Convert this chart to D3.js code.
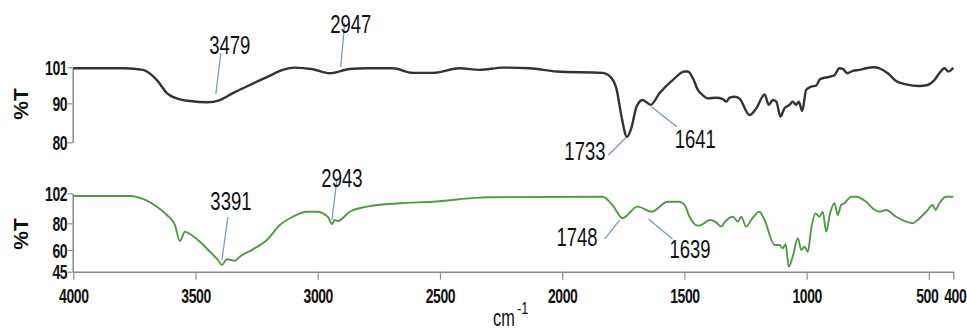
<!DOCTYPE html>
<html>
<head>
<meta charset="utf-8">
<script src="https://cdn.jsdelivr.net/npm/d3@7"></script>
<style>
  body { margin: 0; background: #fff; }
  svg { display: block; font-family: "Liberation Sans", Arial, sans-serif; }
</style>
</head>
<body>
<div id="chart"></div>
<script>
// wavenumber ticks (cm-1)
const xTicks = [4000, 3500, 3000, 2500, 2000, 1500, 1000, 500, 400];
const topTicks = [101, 90, 80];
const bottomTicks = [102, 80, 60, 45];

// top spectrum (black)
const topWn = [4000, 3789, 3715, 3658, 3617, 3564, 3523, 3453, 3400, 3347, 3278, 3208, 3143, 3094, 3020, 2951, 2869, 2799, 2693, 2611,
  2530, 2419, 2337, 2243, 2133, 2023, 1835, 1798, 1777, 1757, 1735, 1716, 1696, 1671, 1638, 1602, 1548, 1499, 1486, 1465,
  1445, 1425, 1404, 1370, 1343, 1329, 1315, 1295, 1275, 1234, 1206, 1172, 1155, 1138, 1124, 1107, 1091, 1070, 1057, 1043,
  1032, 1018, 1002, 981, 961, 945, 907, 886, 866, 852, 834, 811, 784, 757, 723, 702, 668, 634, 593, 539,
  505, 477, 457, 436, 419, 400];
const topT = [100.7, 100.7, 100.2, 97.1, 93.1, 91.2, 90.7, 90.3, 91.0, 93.1, 95.6, 98.0, 100.2, 100.9, 100.4, 99.2, 100.5, 100.7, 100.7, 99.3,
  99.3, 100.7, 100.2, 100.9, 100.7, 99.7, 99.3, 97.7, 94.1, 86.5, 81.4, 83.9, 89.1, 91.0, 89.6, 93.1, 97.1, 99.7, 99.7, 97.6,
  94.1, 92.5, 91.5, 91.7, 91.3, 90.5, 91.7, 92.0, 91.5, 87.0, 88.7, 92.7, 89.6, 91.0, 90.5, 86.6, 88.7, 89.6, 90.5, 89.6,
  90.5, 88.0, 94.1, 95.1, 95.4, 97.4, 98.1, 98.6, 100.7, 100.5, 99.2, 99.9, 100.2, 100.7, 101.0, 100.7, 99.2, 96.8, 95.8, 95.3,
  95.6, 97.1, 99.2, 100.7, 99.7, 100.9];

// bottom spectrum (green)
const botWn = [4000, 3768, 3699, 3658, 3617, 3584, 3564, 3543, 3523, 3482, 3441, 3408, 3392, 3372, 3339, 3319, 3265, 3208, 3155, 3102,
  3045, 3004, 2959, 2942, 2930, 2918, 2869, 2799, 2664, 2530, 2337, 2297, 1835, 1794, 1753, 1692, 1634, 1569, 1520, 1499,
  1479, 1445, 1425, 1397, 1370, 1349, 1336, 1302, 1281, 1268, 1247, 1227, 1193, 1172, 1131, 1111, 1098, 1086, 1073, 1057,
  1036, 1022, 1009, 995, 981, 964, 947, 934, 920, 904, 886, 873, 859, 845, 818, 797, 757, 730, 702, 675,
  634, 593, 566, 546, 511, 484, 473, 457, 430, 400];
const botT = [100.0, 100.0, 96.6, 92.2, 86.1, 78.7, 66.7, 73.7, 72.0, 66.2, 58.8, 53.1, 49.6, 53.6, 52.6, 55.4, 60.5, 67.5, 78.7, 84.8,
  88.5, 88.5, 84.8, 79.5, 82.4, 81.7, 88.5, 92.2, 94.7, 95.8, 98.8, 99.1, 99.5, 93.4, 83.7, 92.2, 88.5, 95.8, 95.8, 93.4,
  84.8, 78.2, 79.3, 82.4, 80.7, 77.5, 80.7, 84.8, 81.2, 84.8, 77.5, 82.4, 88.5, 82.4, 63.7, 63.7, 61.3, 64.3, 48.5, 55.4,
  68.8, 60.0, 62.5, 58.8, 76.3, 87.3, 84.8, 88.5, 73.7, 87.3, 94.7, 86.1, 93.4, 94.7, 99.5, 99.5, 95.8, 91.0, 88.5, 89.8,
  84.8, 81.2, 80.0, 82.4, 88.5, 93.4, 89.8, 94.7, 99.5, 99.5];

// peak labels: text, tip wavenumber, tip %T
const topPeaks = ["3479", "2947", "1733", "1641"];
const topPeakWn = [3417, 2906, 1741, 1634];
const topPeakT = [92.8, 101.1, 81.1, 89.1];
const botPeaks = ["3391", "2943", "1748", "1639"];
const botPeakWn = [3392, 2942, 1765, 1647];
const botPeakT = [53.1, 82.4, 82.4, 83.1];

const width = 967, height = 331;
const svg = d3.select("#chart").append("svg")
  .attr("width", width).attr("height", height);

const x = d3.scaleLinear().domain([4000, 400]).range([73.3, 953.3]);
const yTop = d3.scaleLinear().domain([80, 90, 101]).range([142.3, 103.3, 67.3]);
const yBot = d3.scaleLinear().domain([45, 60, 80, 102]).range([271.7, 250, 223.3, 193.3]);

const axisColor = "#8a8a8a";
const squeeze = 0.7;

function styleAxis(g) {
  g.attr("font-family", null).attr("font-size", null);
  g.selectAll("path.domain").attr("stroke", axisColor).attr("stroke-width", 1.5);
  g.selectAll(".tick line").attr("stroke", axisColor).attr("stroke-width", 1.2);
  g.selectAll(".tick text")
    .attr("fill", "#111")
    .style("font-size", "20px")
    .style("font-weight", "bold");
}

// left axes
const gTop = svg.append("g").attr("transform", "translate(72.7,0)")
  .call(d3.axisLeft(yTop).tickValues(topTicks).tickSize(5).tickSizeOuter(0));
const gBot = svg.append("g").attr("transform", "translate(72.7,0)")
  .call(d3.axisLeft(yBot).tickValues(bottomTicks).tickSize(5).tickSizeOuter(0));
[gTop, gBot].forEach(g => {
  styleAxis(g);
  g.selectAll(".tick text")
    .attr("x", -5.5 / squeeze)
    .attr("dy", "0.36em")
    .attr("transform", `scale(${squeeze},1)`)
    .attr("letter-spacing", -0.6);
});

// bottom axis
const gX = svg.append("g").attr("transform", "translate(0,271.7)")
  .call(d3.axisBottom(x).tickValues(xTicks).tickSize(8).tickSizeOuter(0).tickFormat(d3.format("d")));
styleAxis(gX);
gX.selectAll(".tick text")
  .attr("y", 17.5).attr("dy", "0.71em")
  .attr("transform", `scale(${squeeze},1)`)
  .attr("letter-spacing", -0.6);
gX.selectAll(".tick").filter(d => d === 500).select("text").attr("x", -3);
gX.selectAll(".tick").filter(d => d === 400).select("text").attr("x", 2);

// spectra
const lineTop = d3.line().x((d, i) => x(topWn[i])).y(d => yTop(d)).curve(d3.curveMonotoneX);
const lineBot = d3.line().x((d, i) => x(botWn[i])).y(d => yBot(d)).curve(d3.curveMonotoneX);

svg.append("path").datum(topT)
  .attr("d", lineTop)
  .attr("fill", "none").attr("stroke", "#333").attr("stroke-width", 2.4)
  .attr("stroke-linejoin", "round");

svg.append("path").datum(botT)
  .attr("d", lineBot)
  .attr("fill", "none").attr("stroke", "#4f9a44").attr("stroke-width", 1.9)
  .attr("stroke-linejoin", "round");

// peak annotations: leader offset (dx, dy) and label anchor
const topLeads = [[5, -41, "middle", 9, 1], [4, -44, "middle", 6, 10], [-17, 17, "end", -3, 5], [25, 20, "start", -2, 21]];
const botLeads = [[6, -43, "middle", 3, -7], [5, -40, "middle", 5, 7], [-15, 19, "end", -7, 7], [24, 20, "start", -3, 19]];

function drawPeaks(labels, wn, tv, yScale, leads) {
  labels.forEach((lab, i) => {
    const px = x(wn[i]), py = yScale(tv[i]);
    const [dx, dy, anchor, tx, ty] = leads[i];
    svg.append("line")
      .attr("x1", px).attr("y1", py)
      .attr("x2", px + dx).attr("y2", py + dy)
      .attr("stroke", "#6f93d3").attr("stroke-width", 1.2);
    svg.append("text")
      .attr("transform", `translate(${px + dx + tx},${py + dy + ty}) scale(0.74,1)`)
      .attr("text-anchor", anchor)
      .attr("fill", "#111")
      .style("font-size", "25px")
      .text(lab);
  });
}
drawPeaks(topPeaks, topPeakWn, topPeakT, yTop, topLeads);
drawPeaks(botPeaks, botPeakWn, botPeakT, yBot, botLeads);

// y titles
[104, 234].forEach(cy => {
  svg.append("text")
    .attr("transform", `translate(28,${cy}) rotate(-90)`)
    .attr("text-anchor", "middle")
    .attr("fill", "#111")
    .style("font-size", "21px").style("font-weight", "bold")
    .text("%T");
});

// x title
svg.append("text")
  .attr("transform", "translate(493,326) scale(0.68,1)")
  .attr("fill", "#111").style("font-size", "24px")
  .text("cm");
svg.append("text")
  .attr("transform", "translate(517,314) scale(0.8,1)")
  .attr("fill", "#111").style("font-size", "16px")
  .text("-1");
</script>
</body>
</html>
